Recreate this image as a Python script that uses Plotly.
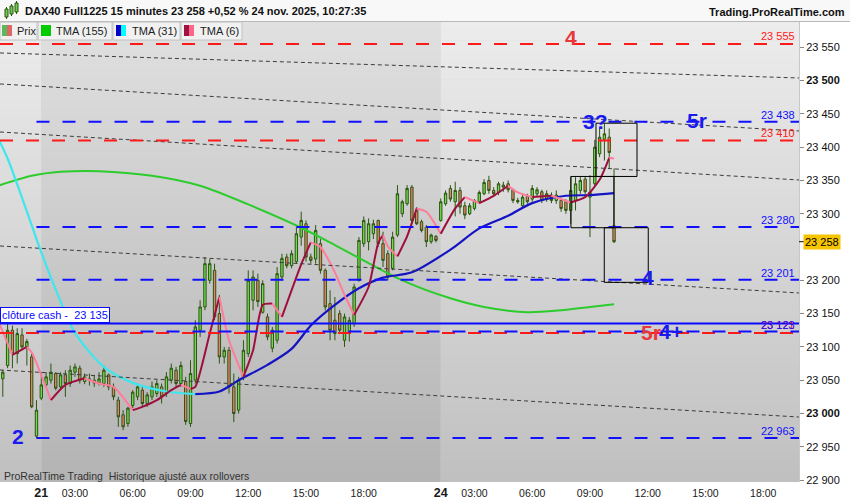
import numpy as np
import pandas as pd
import plotly.graph_objects as go

# ---------------------------------------------------------------- data
session_day20 = pd.date_range("2025-11-20 20:00", "2025-11-20 21:45", freq="15min")
session_day21 = pd.date_range("2025-11-21 01:15", "2025-11-21 21:45", freq="15min")
session_day24 = pd.date_range("2025-11-24 01:15", "2025-11-24 10:15", freq="15min")

opens = [23052, 23072, 23125, 23090, 23118, 23100, 23085, 22966,
         23023, 23043, 23050, 23060, 23040, 23058, 23045, 23062, 23068, 23048,
         23052, 23050, 23046, 23045, 23058, 23040, 23020, 22998, 22985, 23012,
         23025, 23035, 23015, 23025, 23030, 23040, 23030, 23050, 23065, 23045,
         23048, 22985, 23050, 23125, 23160, 23200, 23215, 23150, 23085, 23095,
         23040, 23005, 23055, 23090, 23170, 23200, 23152, 23145, 23098, 23110,
         23205, 23235, 23222, 23228, 23265, 23285, 23235, 23232, 23255, 23215,
         23165, 23140, 23150, 23110, 23120, 23135, 23200, 23255, 23258, 23270,
         23290, 23255, 23240, 23218, 23268, 23300, 23315, 23340, 23305, 23288,
         23280, 23258, 23266,
         23290, 23315, 23338, 23318, 23335, 23312, 23300, 23308, 23318, 23330,
         23350, 23335, 23332, 23343, 23345, 23336, 23320, 23312, 23326, 23322,
         23330, 23333, 23322, 23328, 23320, 23320, 23318, 23305, 23320, 23335,
         23352, 23325, 23345, 23390, 23412, 23415, 23282]
highs = [23065, 23135, 23132, 23128, 23128, 23112, 23090, 23020,
         23062, 23062, 23075, 23062, 23062, 23065, 23072, 23075, 23072, 23060,
         23060, 23058, 23062, 23072, 23060, 23045, 23025, 23005, 23010, 23035,
         23045, 23040, 23032, 23048, 23050, 23045, 23062, 23075, 23070, 23078,
         23055, 23080, 23140, 23170, 23235, 23232, 23225, 23178, 23100, 23100,
         23060, 23055, 23110, 23215, 23215, 23210, 23200, 23150, 23130, 23220,
         23240, 23240, 23245, 23280, 23303, 23290, 23240, 23283, 23262, 23218,
         23185, 23175, 23155, 23150, 23145, 23195, 23265, 23296, 23293, 23291,
         23291, 23273, 23245, 23273, 23343, 23321, 23343, 23343, 23310, 23291,
         23283, 23270, 23268,
         23323, 23335, 23343, 23348, 23340, 23318, 23316, 23322, 23335, 23352,
         23357, 23340, 23348, 23348, 23350, 23338, 23324, 23328, 23330, 23343,
         23340, 23336, 23335, 23332, 23335, 23322, 23322, 23356, 23355, 23355,
         23356, 23358, 23411, 23430, 23436, 23428, 23368]
lows = [23025, 23068, 23068, 23075, 23095, 23072, 23008, 22963,
        23020, 23038, 23045, 23035, 23036, 23025, 23040, 23055, 23045, 23044,
        23042, 23040, 23042, 23040, 23035, 23020, 22980, 22975, 22980, 23008,
        23020, 23010, 23010, 23020, 23025, 23015, 23025, 23045, 23040, 23040,
        22983, 22980, 23045, 23115, 23155, 23195, 23140, 23075, 23075, 23030,
        22987, 23000, 23050, 23085, 23155, 23160, 23150, 23110, 23092, 23105,
        23200, 23218, 23218, 23225, 23252, 23228, 23225, 23225, 23210, 23155,
        23110, 23110, 23120, 23100, 23108, 23130, 23198, 23250, 23245, 23262,
        23250, 23220, 23200, 23215, 23265, 23295, 23312, 23285, 23283, 23272,
        23250, 23255, 23257,
        23288, 23312, 23318, 23296, 23300, 23292, 23298, 23305, 23315, 23328,
        23330, 23326, 23328, 23333, 23332, 23316, 23315, 23308, 23315, 23318,
        23326, 23316, 23318, 23316, 23315, 23303, 23300, 23285, 23305, 23330,
        23330, 23265, 23340, 23385, 23380, 23368, 23256]
closes = [23062, 23125, 23090, 23120, 23100, 23108, 23010, 23005,
          23043, 23055, 23062, 23038, 23058, 23045, 23065, 23070, 23050, 23055,
          23050, 23046, 23052, 23065, 23040, 23025, 22995, 22980, 23008, 23032,
          23040, 23015, 23028, 23040, 23045, 23025, 23055, 23068, 23045, 23072,
          22988, 23060, 23130, 23160, 23225, 23225, 23145, 23085, 23095, 23040,
          23000, 23050, 23095, 23200, 23205, 23168, 23195, 23115, 23125, 23210,
          23233, 23222, 23240, 23270, 23290, 23235, 23230, 23275, 23215, 23160,
          23125, 23120, 23125, 23145, 23140, 23190, 23260, 23290, 23285, 23285,
          23255, 23230, 23205, 23265, 23330, 23318, 23338, 23290, 23285, 23275,
          23258, 23268, 23260,
          23318, 23331, 23322, 23335, 23310, 23298, 23312, 23320, 23332, 23347,
          23335, 23330, 23345, 23340, 23336, 23320, 23318, 23325, 23318, 23338,
          23336, 23320, 23330, 23320, 23328, 23308, 23305, 23335, 23345, 23350,
          23333, 23332, 23400, 23415, 23420, 23392, 23258]

# moving averages (bar position, value)
tma155_pos = [-9, -2, 4, 12, 23, 33, 43, 54, 61, 68, 75, 85, 92, 101, 108, 114, 119]
tma155_val = [23342, 23357, 23363, 23364, 23357, 23342, 23314, 23279, 23253, 23226,
              23200, 23173, 23160, 23152, 23155, 23160, 23164]

tma31_pos = [-9, -7, -4, -2, -1, 3, 7, 13, 19, 26, 32, 37, 41, 47, 52, 56, 61, 66,
             71, 77, 85, 91, 97, 102, 109, 114, 119]
tma31_val = [23414, 23383, 23324, 23283, 23262, 23186, 23121, 23070, 23046, 23033,
             23029, 23033, 23050, 23073, 23097, 23132, 23163, 23188, 23204, 23212,
             23246, 23278, 23297, 23316, 23327, 23328, 23331]

tma6_pos = [-9, -6, -3, -2, 2, 5, 9, 12, 15, 19, 21, 24, 27, 29, 31, 32, 35, 37, 39,
            42, 44, 46, 48, 50, 54, 56, 58, 61, 63, 65, 68, 70, 71, 72, 74, 76, 78,
            80, 83, 86, 88, 91, 94, 97, 99, 102, 106, 110, 113, 116, 118, 119]
tma6_val = [23140, 23088, 23100, 23092, 23020, 23043, 23053, 23045, 23040, 23005,
            23010, 23020, 23035, 23043, 23037, 23040, 23120, 23175, 23110, 23055,
            23095, 23163, 23165, 23145, 23224, 23257, 23250, 23212, 23178, 23148,
            23190, 23256, 23268, 23251, 23236, 23266, 23308, 23303, 23270, 23308,
            23325, 23316, 23327, 23342, 23332, 23325, 23327, 23317, 23325, 23351,
            23384, 23383]

# horizontal levels: price, colour, starting bar
level_price = [23555, 23438, 23410, 23280, 23201, 23121, 23123, 22963]
level_color = ["red", "blue", "red", "blue", "blue", "red", "blue", "blue"]
level_start = [None, -1, None, -1, -1, None, -1, -1]
cash_close = 23135
last_price = 23258

# dotted trend lines: (bar0, price0, bar1, price1)
trend_lines = [(-8.58, 23541.5, 157.43, 23503.9),
               (-8.58, 23494.9, 157.43, 23424.3),
               (-8.58, 23422.8, 157.43, 23350.7),
               (-8.58, 23251.6, 157.43, 23181.0),
               (-8.58, 23065.3, 157.43, 22994.7)]

# zones (bar0, bar1, price_top, price_bottom)
zones = [(115.25, 123.77, 23436, 23356),
         (110.05, 118.98, 23356, 23279),
         (116.97, 126.11, 23279, 23197)]

# wave labels: text, colour, bar, price
wave_text = ["4", "3?", "5r", "4", "5r", "4+", "2"]
wave_color = ["red", "blue", "blue", "blue", "red", "blue", "blue"]
wave_bar = [110.0, 115.1, 136.2, 126.0, 126.7, 130.8, -4.8]
wave_price = [23564, 23438, 23440, 23204, 23121, 23123, 22966]

x_tick_times = ["2025-11-21 01:15", "2025-11-21 03:00", "2025-11-21 06:00", "2025-11-21 09:00",
                "2025-11-21 12:00", "2025-11-21 15:00", "2025-11-21 18:00",
                "2025-11-24 01:15", "2025-11-24 03:00", "2025-11-24 06:00", "2025-11-24 09:00",
                "2025-11-24 12:00", "2025-11-24 15:00", "2025-11-24 18:00"]
x_tick_text = ["<span style='font-size:12.5px'><b>21</b></span>", "03:00", "06:00", "09:00",
               "12:00", "15:00", "18:00",
               "<span style='font-size:12.5px'><b>24</b></span>", "03:00", "06:00", "09:00",
               "12:00", "15:00", "18:00"]
y_tick_vals = [22900, 22950, 23000, 23050, 23100, 23150, 23200,
               23300, 23350, 23400, 23450, 23500, 23550]
y_tick_text = ["22 900", "22 950", "<b>23 000</b>", "23 050", "23 100", "23 150", "23 200",
               "23 300", "23 350", "23 400", "23 450", "<b>23 500</b>", "23 550"]

title_text = "DAX40 Full1225 15 minutes 23 258 +0,52 % 24 nov. 2025, 10:27:35"
legend_items = ["Prix", "TMA (155)", "TMA (31)", "TMA (6)"]

# ---------------------------------------------------------------- geometry helpers
n20 = len(session_day20)
bar_pos = np.arange(n20 + len(session_day21) + len(session_day24)) - n20
session_start = {pd.Timestamp("2025-11-20").date(): (-n20, session_day20[0]),
                 pd.Timestamp("2025-11-21").date(): (0, session_day21[0]),
                 pd.Timestamp("2025-11-24").date(): (len(session_day21), session_day24[0])}


def to_pos(ts):
    ts = pd.Timestamp(ts)
    p0, t0 = session_start[ts.date()]
    return p0 + (ts - t0) / pd.Timedelta("15min")


x_tick_pos = [to_pos(t) for t in x_tick_times]

PR, PT, PB = 799, 21, 482
X0, X1 = -8.58, 157.43
Y0, Y1 = 22897.1, 23589.5


def PX(x):
    return x / PR


def PY(y):
    return (PB - y) / (PB - PT)


FONT = "Liberation Sans, Arial, sans-serif"
BLUE, RED = "#1010ff", "#ff1a1a"
COLMAP = {"blue": BLUE, "red": RED}
LABEL_BLUE, LABEL_RED = "#1a1aee", "#e8383c"

fig = go.Figure()

# candles
fig.add_trace(go.Candlestick(
    x=bar_pos, open=opens, high=highs, low=lows, close=closes,
    increasing=dict(line=dict(color="#2b5512", width=1), fillcolor="#72da4c"),
    decreasing=dict(line=dict(color="#2b5512", width=1), fillcolor="#e9806a"),
    whiskerwidth=0, showlegend=False, hoverinfo="skip"))

# TMA 155
fig.add_trace(go.Scatter(x=tma155_pos, y=tma155_val, mode="lines",
                         line=dict(color="#2ccc2c", width=2, shape="spline", smoothing=0.8),
                         hoverinfo="skip"))

# TMA 31 (cyan falling, blue rising)
k = tma31_pos.index(32)
fig.add_trace(go.Scatter(x=tma31_pos[:k + 1], y=tma31_val[:k + 1], mode="lines",
                         line=dict(color="#3ee6ee", width=2.2, shape="spline", smoothing=0.8),
                         hoverinfo="skip"))
fig.add_trace(go.Scatter(x=tma31_pos[k:], y=tma31_val[k:], mode="lines",
                         line=dict(color="#1414c4", width=2.2, shape="spline", smoothing=0.8),
                         hoverinfo="skip"))

# TMA 6 coloured by direction
seg_start = 0
for i in range(1, len(tma6_pos)):
    rising = tma6_val[i] >= tma6_val[i - 1]
    last = i == len(tma6_pos) - 1
    nxt_rising = None if last else tma6_val[i + 1] >= tma6_val[i]
    if last or nxt_rising != rising:
        fig.add_trace(go.Scatter(
            x=tma6_pos[seg_start:i + 1], y=tma6_val[seg_start:i + 1], mode="lines",
            line=dict(color="#9e0f3e" if rising else "#ff7c9c", width=2,
                      shape="spline", smoothing=0.6),
            hoverinfo="skip"))
        seg_start = i

shapes = []
annotations = []

# background gradient bands
light = (236, 192)
dark = (224, 180)
regions = [(X0, 0, light), (0, 83, dark), (83, X1, light)]
nb = 47
for (xa, xb, (ctop, cbot)) in regions:
    for b in range(nb):
        ya = PT + (PB - PT) * b / nb
        yb = PT + (PB - PT) * (b + 1) / nb
        c = int(round(ctop + (cbot - ctop) * (b + 0.5) / nb))
        shapes.append(dict(type="rect", xref="x", yref="paper", x0=xa, x1=xb,
                           y0=PY(yb), y1=PY(ya) + 0.001, fillcolor=f"rgb({c},{c},{c})",
                           line=dict(width=0), layer="below"))

# dotted trend lines
for (a0, p0, a1, p1) in trend_lines:
    shapes.append(dict(type="line", xref="x", yref="y", x0=a0, x1=a1, y0=p0, y1=p1,
                       line=dict(color="#3c3c3c", width=1, dash="4px,3px")))

# level lines
for p, c, s in zip(level_price, level_color, level_start):
    shapes.append(dict(type="line", xref="x", yref="y", x0=X0 if s is None else s, x1=X1,
                       y0=p, y1=p, line=dict(color=COLMAP[c], width=2, dash="13px,13px")))
    annotations.append(dict(xref="paper", yref="y", x=PX(797), y=p, xanchor="right",
                            yanchor="middle", yshift=7 if c == "blue" else 8,
                            text=f"{p:,}".replace(",", " "), showarrow=False,
                            font=dict(family=FONT, size=11, color=COLMAP[c])))

# cash close
shapes.append(dict(type="line", xref="x", yref="y", x0=X0, x1=X1, y0=cash_close, y1=cash_close,
                   line=dict(color="#0a0aff", width=2)))
annotations.append(dict(xref="paper", yref="y", x=0, y=cash_close, xanchor="left", yanchor="bottom",
                        yshift=1, text="clôture cash -\u00a0 " + f"{cash_close:,}".replace(",", " "),
                        showarrow=False, bgcolor="white", bordercolor="#0a0aff", borderwidth=1,
                        borderpad=1, font=dict(family=FONT, size=11, color="#0a0aff")))

# zones
for (a0, a1, pt, pb) in zones:
    shapes.append(dict(type="rect", xref="x", yref="y", x0=a0, x1=a1, y0=pb, y1=pt,
                       line=dict(color="black", width=1), fillcolor="rgba(0,0,0,0)"))

# wave labels
for t, c, b, p in zip(wave_text, wave_color, wave_bar, wave_price):
    annotations.append(dict(xref="x", yref="y", x=b, y=p, text=t, showarrow=False,
                            xanchor="center", yanchor="middle",
                            font=dict(family=FONT, size=21, weight="bold",
                                      color=LABEL_BLUE if c == "blue" else LABEL_RED)))

# last price tag
shapes.append(dict(type="line", xref="paper", yref="y", x0=PX(799), x1=PX(804),
                   y0=last_price, y1=last_price, line=dict(color="black", width=1)))
annotations.append(dict(xref="paper", yref="y", x=PX(803), y=last_price, xanchor="left",
                        yanchor="middle", text=f"{last_price:,}".replace(",", " "),
                        showarrow=False, bgcolor="#f6c400", borderpad=1,
                        font=dict(family=FONT, size=11, color="black")))

# header
shapes.append(dict(type="rect", xref="paper", yref="paper", x0=0, x1=PX(850), y0=PY(21),
                   y1=PY(0), fillcolor="#f8f8f8", line=dict(width=0)))
shapes.append(dict(type="line", xref="paper", yref="paper", x0=0, x1=PX(850), y0=PY(21.5),
                   y1=PY(21.5), line=dict(color="#b8b8b8", width=1)))
annotations.append(dict(xref="paper", yref="paper", x=PX(23), y=PY(11), xanchor="left",
                        yanchor="middle", text=title_text, showarrow=False,
                        font=dict(family=FONT, size=11, weight="bold", color="#111")))
annotations.append(dict(xref="paper", yref="paper", x=PX(847), y=PY(12), xanchor="right",
                        yanchor="middle", text="Trading.ProRealTime.com", showarrow=False,
                        font=dict(family=FONT, size=11, weight="bold", color="#111")))
# icon
for (ix0, ix1, iy0, iy1) in [(5, 8, 9, 17), (10, 13, 6, 14), (15, 18, 3, 12)]:
    shapes.append(dict(type="line", xref="paper", yref="paper", x0=PX((ix0 + ix1) / 2),
                       x1=PX((ix0 + ix1) / 2), y0=PY(iy1 + 2), y1=PY(iy0 - 2),
                       line=dict(color="#2b5512", width=1)))
    shapes.append(dict(type="rect", xref="paper", yref="paper", x0=PX(ix0), x1=PX(ix1),
                       y0=PY(iy1), y1=PY(iy0), fillcolor="#6cd046",
                       line=dict(color="#2b5512", width=1)))

# legend row
box_edges = [(0, 37), (38, 112), (113, 180), (181, 242)]
text_x = [15, 54, 130, 198]
swatch_x = [2, 41, 116, 184]
swatch_cols = [("#5cb85c", "#e06666"), ("#00cc00", "#00cc00"),
               ("#0000cc", "#00ffff"), ("#a01040", "#ff6688")]
for (bx0, bx1), tx, sx, (c1, c2), lbl in zip(box_edges, text_x, swatch_x, swatch_cols, legend_items):
    shapes.append(dict(type="rect", xref="paper", yref="paper", x0=PX(bx0), x1=PX(bx1),
                       y0=PY(40), y1=PY(22), fillcolor="#f1f1f1",
                       line=dict(color="#c2c2c2", width=1)))
    shapes.append(dict(type="rect", xref="paper", yref="paper", x0=PX(sx), x1=PX(sx + 5),
                       y0=PY(36), y1=PY(25), fillcolor=c1, line=dict(width=0)))
    shapes.append(dict(type="rect", xref="paper", yref="paper", x0=PX(sx + 5), x1=PX(sx + 10),
                       y0=PY(36), y1=PY(25), fillcolor=c2, line=dict(width=0)))
    annotations.append(dict(xref="paper", yref="paper", x=PX(tx), y=PY(31), xanchor="left",
                            yanchor="middle", text=lbl, showarrow=False,
                            font=dict(family=FONT, size=11, color="#222")))

# footer text
annotations.append(dict(xref="paper", yref="paper", x=PX(2), y=PY(476), xanchor="left",
                        yanchor="middle",
                        text="ProRealTime Trading\u00a0 Historique ajusté aux rollovers",
                        showarrow=False, font=dict(family=FONT, size=10.5, color="#333")))

fig.update_layout(
    width=850, height=500,
    margin=dict(l=0, r=51, t=21, b=18, pad=0),
    paper_bgcolor="white", plot_bgcolor="#d4d4d4",
    showlegend=False,
    shapes=shapes, annotations=annotations,
    xaxis=dict(range=[X0, X1], showgrid=False, zeroline=False, showline=False,
               tickmode="array", tickvals=x_tick_pos, ticktext=x_tick_text,
               ticks="", ticklabelstandoff=3,
               tickfont=dict(family=FONT, size=10.5, color="#1a1a1a"),
               rangeslider=dict(visible=False), fixedrange=True),
    yaxis=dict(range=[Y0, Y1], side="right", showgrid=False, zeroline=False,
               showline=True, linecolor="#c8c8c8", linewidth=1,
               tickmode="array", tickvals=y_tick_vals, ticktext=y_tick_text,
               ticks="outside", ticklen=4, tickcolor="#888",
               tickfont=dict(family=FONT, size=11, color="#111"), fixedrange=True),
)

fig.write_html("out.html", config={"displayModeBar": False},
               post_script="document.body.style.margin='0px';")
